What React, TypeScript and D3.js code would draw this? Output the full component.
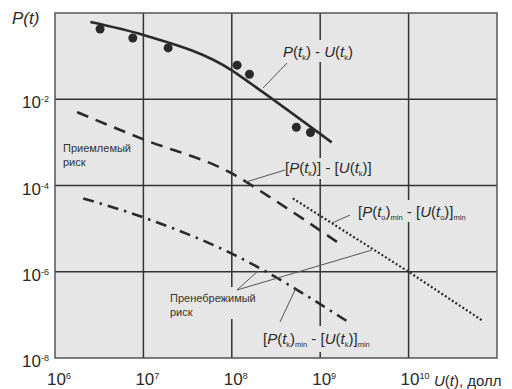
import React from "react";
import * as d3 from "d3";

const W = 512, H = 389;
const xTicks = [1e6, 1e7, 1e8, 1e9, 1e10];
const xTickExp = ["6", "7", "8", "9", "10"];
const yTicks = [1e-2, 1e-4, 1e-6, 1e-8];
const yTickExp = ["-2", "-4", "-6", "-8"];
const xGrid = [1e7, 1e8, 1e9, 1e10];
const yGrid = [1e-2, 1e-4, 1e-6];

// P(tk) - U(tk) observed points (log10 values)
const dotsLogX = [6.51, 6.88, 7.28, 8.06, 8.2, 8.73, 8.89];
const dotsLogY = [-0.37, -0.58, -0.81, -1.21, -1.42, -2.65, -2.77];
// fitted curve
const solidLogX = [6.4, 7.0, 8.0, 8.21, 9.13];
const solidLogY = [-0.21, -0.51, -1.33, -1.63, -3.0];
// [P(tk)] - [U(tk)]
const dashLogX = [6.25, 7.0, 8.0, 8.4, 9.22];
const dashLogY = [-2.3, -2.93, -3.72, -4.23, -5.35];
// [P(to)]min - [U(to)]min
const dotLogX = [8.69, 10.0, 10.84];
const dotLogY = [-4.3, -6.0, -7.14];
// [P(tk)]min - [U(tk)]min
const ddLogX = [6.32, 7.0, 8.0, 9.3];
const ddLogY = [-4.3, -4.74, -5.58, -7.14];

const X0 = 55, X1 = 497, Y0 = 13, Y1 = 358;
const BG = "#e6e6e6";
const INK = "#2a2a2a";
const NARROW = "'Liberation Sans Narrow', 'Arial Narrow', 'Liberation Sans', Arial, sans-serif";

export default function App() {
  const x = d3.scaleLog().domain([1e6, 1e11]).range([X0, X1]);
  const y = d3.scaleLog().domain([1e-8, 1]).range([Y1, Y0]);
  const pts = (lx: number[], ly: number[]) =>
    lx.map((v, i) => [x(Math.pow(10, v)), y(Math.pow(10, ly[i]))] as [number, number]);
  const line = d3.line().curve(d3.curveMonotoneX);
  const lineLin = d3.line();

  const sup = (base: string, e: string) => (
    <>
      {base}
      <tspan dy={-6} fontSize={9}>{e}</tspan>
    </>
  );
  const sub = (s: string) => <tspan dy={3} fontSize={7.5}>{s}</tspan>;
  const it = { fontStyle: "italic" as const };

  return (
    <svg width={W} height={H} style={{ position: "absolute", left: 0, top: 0, fontFamily: "Liberation Sans, Arial, sans-serif" }}>
      <rect x={0} y={0} width={W} height={H} fill="#fff" />
      <rect x={X0} y={Y0} width={X1 - X0} height={Y1 - Y0} fill={BG} />
      {xGrid.map((v, i) => (
        <line key={"xg" + i} x1={x(v)} x2={x(v)} y1={Y0} y2={Y1} stroke="#333" strokeWidth={1.5} />
      ))}
      {yGrid.map((v, i) => (
        <line key={"yg" + i} x1={X0} x2={X1} y1={y(v)} y2={y(v)} stroke="#333" strokeWidth={1.5} />
      ))}
      <rect x={X0} y={Y0} width={X1 - X0} height={Y1 - Y0} fill="none" stroke="#555" strokeWidth={1.5} />

      {/* label backgrounds that interrupt the grid */}
      <rect x={281} y={40} width={84} height={22} fill={BG} />
      <rect x={284} y={158} width={100} height={21} fill={BG} />
      <rect x={356} y={200} width={126} height={22} fill={BG} />
      <rect x={262} y={326} width={124} height={26} fill={BG} />
      <rect x={168} y={287} width={90} height={32} fill={BG} />

      {/* curves */}
      <path d={line(pts(solidLogX, solidLogY)) || ""} fill="none" stroke={INK} strokeWidth={2.6} />
      <path d={line(pts(dashLogX, dashLogY)) || ""} fill="none" stroke={INK} strokeWidth={2.6} strokeDasharray="12,8" />
      <path d={lineLin(pts(dotLogX, dotLogY)) || ""} fill="none" stroke={INK} strokeWidth={2.2} strokeDasharray="2,2.2" />
      <path d={line(pts(ddLogX, ddLogY)) || ""} fill="none" stroke={INK} strokeWidth={2.6} strokeDasharray="11,6,2.5,6" />
      {pts(dotsLogX, dotsLogY).map((p, i) => (
        <circle key={"d" + i} cx={p[0]} cy={p[1]} r={4.5} fill={INK} />
      ))}

      {/* leaders */}
      <g stroke="#555" strokeWidth={1} fill="none">
        <line x1={287} y1={63} x2={263} y2={88} />
        <line x1={285} y1={170} x2={246} y2={182} />
        <line x1={350} y1={215} x2={332} y2={223} />
        <line x1={280} y1={322} x2={295} y2={290} />
        <line x1={237} y1={290} x2={258} y2={271} />
        <line x1={237} y1={290} x2={372} y2={250} />
      </g>

      {/* axes labels */}
      <text x={12} y={24} fontSize={17} fontFamily={NARROW} fill={INK} {...it}>P(t)</text>
      {yTicks.map((v, i) => (
        <text key={"yt" + i} x={49} y={y(v) + 9} fontSize={17} fontFamily={NARROW} textAnchor="end" fill={INK}>
          {sup("10", yTickExp[i])}
        </text>
      ))}
      {xTicks.map((v, i) => (
        <text key={"xt" + i} x={x(v) - 8} y={385} fontSize={17} fontFamily={NARROW} fill={INK}>
          {sup("10", xTickExp[i])}
        </text>
      ))}
      <text x={434} y={386} fontSize={15} fill={INK}>
        <tspan {...it}>U</tspan>(<tspan {...it}>t</tspan>), долл
      </text>

      {/* series labels */}
      <text x={283} y={57} fontSize={15} fontFamily={NARROW} fill={INK}>
        <tspan {...it}>P</tspan>(<tspan {...it}>t</tspan>{sub("k")}<tspan dy={-3}>) - </tspan><tspan {...it}>U</tspan>(<tspan {...it}>t</tspan>{sub("k")}<tspan dy={-3}>)</tspan>
      </text>
      <text x={285} y={173} fontSize={15} fontFamily={NARROW} fill={INK}>
        [<tspan {...it}>P</tspan>(<tspan {...it}>t</tspan>{sub("k")}<tspan dy={-3}>)] - [</tspan><tspan {...it}>U</tspan>(<tspan {...it}>t</tspan>{sub("k")}<tspan dy={-3}>)]</tspan>
      </text>
      <text x={358} y={217} fontSize={15} fontFamily={NARROW} fill={INK}>
        [<tspan {...it}>P</tspan>(<tspan {...it}>t</tspan>{sub("o")}<tspan dy={-3}>)</tspan>{sub("min")}<tspan dy={-3}> - [</tspan><tspan {...it}>U</tspan>(<tspan {...it}>t</tspan>{sub("o")}<tspan dy={-3}>)]</tspan>{sub("min")}
      </text>
      <text x={263} y={344} fontSize={15} fontFamily={NARROW} fill={INK}>
        [<tspan {...it}>P</tspan>(<tspan {...it}>t</tspan>{sub("k")}<tspan dy={-3}>)</tspan>{sub("min")}<tspan dy={-3}> - [</tspan><tspan {...it}>U</tspan>(<tspan {...it}>t</tspan>{sub("k")}<tspan dy={-3}>)]</tspan>{sub("min")}
      </text>
      <text x={63} y={152} fontSize={11} fill="#333">Приемлемый</text>
      <text x={63} y={166} fontSize={11} fill="#333">риск</text>
      <text x={170} y={302} fontSize={11} fill="#333">Пренебрежимый</text>
      <text x={170} y={316} fontSize={11} fill="#333">риск</text>
    </svg>
  );
}
